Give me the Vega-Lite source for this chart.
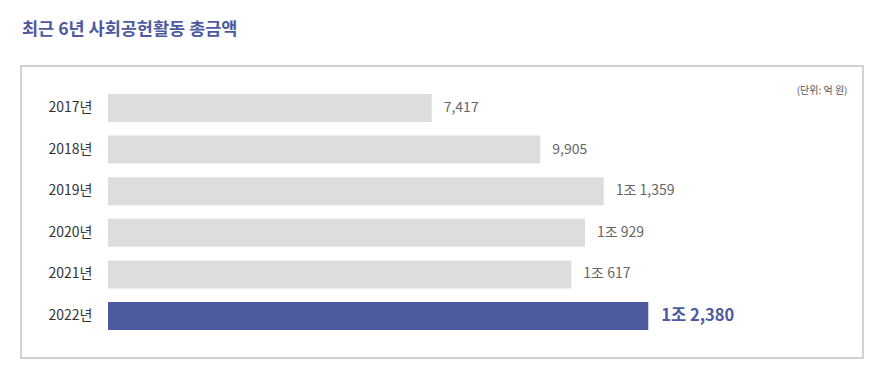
{
  "$schema": "https://vega.github.io/schema/vega-lite/v6.json",
  "width": 842,
  "height": 292,
  "autosize": {"type": "none"},
  "padding": {"left": 21, "top": 66, "right": 20, "bottom": 29},
  "background": "white",
  "title": {
    "text": "최근 6년 사회공헌활동 총금액",
    "anchor": "start",
    "frame": "group",
    "orient": "top",
    "offset": 14,
    "baseline": "alphabetic",
    "dx": 1,
    "font": "Noto Sans CJK KR",
    "fontSize": 17.5,
    "fontWeight": "bold",
    "color": "#4E5AA0"
  },
  "data": {
    "values": [
      {"year": "2017년", "amount": 7417, "label": "7,417"},
      {"year": "2018년", "amount": 9905, "label": "9,905"},
      {"year": "2019년", "amount": 11359, "label": "1조 1,359"},
      {"year": "2020년", "amount": 10929, "label": "1조 929"},
      {"year": "2021년", "amount": 10617, "label": "1조 617"},
      {"year": "2022년", "amount": 12380, "label": "1조 2,380"}
    ]
  },
  "encoding": {
    "y": {
      "field": "year",
      "type": "nominal",
      "sort": null,
      "scale": {"paddingInner": 0.327, "paddingOuter": 0.673},
      "axis": {
        "title": null,
        "offset": -87,
        "domain": false,
        "ticks": false,
        "labelPadding": 16,
        "labelFont": "Noto Sans CJK KR",
        "labelFontSize": 14,
        "labelColor": "#333333"
      }
    },
    "x": {
      "field": "amount",
      "type": "quantitative",
      "scale": {"domain": [0, 17300], "range": [87, 842], "zero": true, "nice": false},
      "axis": {
        "orient": "top",
        "title": "(단위: 억 원)",
        "titleFont": "Noto Sans CJK KR",
        "titleFontSize": 10,
        "titleFontWeight": "normal",
        "titleColor": "#555555",
        "titleX": 826,
        "titleY": 27,
        "titleAlign": "right",
        "titleBaseline": "alphabetic",
        "labels": false,
        "ticks": false,
        "domain": false,
        "grid": false
      }
    }
  },
  "layer": [
    {
      "mark": {"type": "bar"},
      "encoding": {
        "color": {
          "condition": {"test": "datum.year === '2022년'", "value": "#4E5AA0"},
          "value": "#DCDDDD"
        }
      }
    },
    {
      "transform": [{"filter": "datum.year !== '2022년'"}],
      "mark": {
        "type": "text",
        "align": "left",
        "baseline": "middle",
        "dx": 12,
        "font": "Noto Sans CJK KR",
        "fontSize": 14,
        "color": "#666666"
      },
      "encoding": {"text": {"field": "label"}}
    },
    {
      "transform": [{"filter": "datum.year === '2022년'"}],
      "mark": {
        "type": "text",
        "align": "left",
        "baseline": "middle",
        "dx": 13,
        "font": "Noto Sans CJK KR",
        "fontSize": 16.5,
        "fontWeight": "bold",
        "color": "#4E5AA0"
      },
      "encoding": {"text": {"field": "label"}}
    }
  ],
  "config": {
    "view": {"stroke": "#c4c4c4", "strokeWidth": 1.5},
    "bar": {"discreteBandSize": null}
  }
}
